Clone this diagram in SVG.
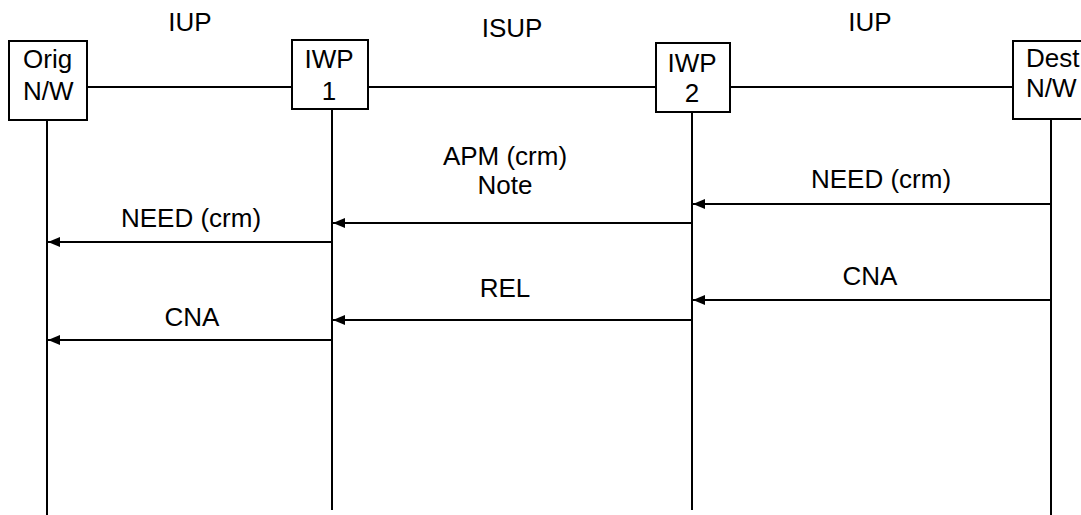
<svg xmlns="http://www.w3.org/2000/svg" width="1081" height="515" viewBox="0 0 1081 515">
<style>
.box{fill:#fff;stroke:#000;stroke-width:2}
.ln{stroke:#000;stroke-width:2;fill:none}
text{font-family:"Liberation Sans",Arial,sans-serif;font-size:26px;fill:#000}
.c{text-anchor:middle}
</style>
<defs>
<marker id="ah" viewBox="0 0 12 10" refX="12" refY="5" markerWidth="12" markerHeight="10" markerUnits="userSpaceOnUse" orient="auto">
<path d="M0,0 L12,5 L0,10 Z" fill="#000"/>
</marker>
</defs>
<text class="c" x="190" y="31">IUP</text>
<text class="c" x="512" y="37">ISUP</text>
<text class="c" x="870" y="31">IUP</text>
<g id="connectors">
<line class="ln" x1="87" y1="87" x2="292" y2="87"/>
<line class="ln" x1="368" y1="87" x2="656" y2="87"/>
<line class="ln" x1="730" y1="87" x2="1013" y2="87"/>
<line class="ln" x1="47" y1="120" x2="47" y2="515"/>
<line class="ln" x1="332" y1="109" x2="332" y2="510"/>
<line class="ln" x1="692" y1="112" x2="692" y2="510"/>
<line class="ln" x1="1051" y1="119" x2="1051" y2="515"/>
<line class="ln" x1="1051" y1="204" x2="693" y2="204" marker-end="url(#ah)"/>
<line class="ln" x1="692" y1="223" x2="333" y2="223" marker-end="url(#ah)"/>
<line class="ln" x1="332" y1="242" x2="48" y2="242" marker-end="url(#ah)"/>
<line class="ln" x1="1051" y1="300" x2="693" y2="300" marker-end="url(#ah)"/>
<line class="ln" x1="692" y1="320" x2="333" y2="320" marker-end="url(#ah)"/>
<line class="ln" x1="332" y1="340" x2="48" y2="340" marker-end="url(#ah)"/>
<text class="c" x="505" y="165">APM (crm)</text>
<text class="c" x="505" y="194">Note</text>
<text class="c" x="881" y="188">NEED (crm)</text>
<text class="c" x="191" y="227">NEED (crm)</text>
<text class="c" x="870" y="285">CNA</text>
<text class="c" x="505" y="297">REL</text>
<text class="c" x="192" y="326">CNA</text>
</g>
<g id="orig">
<rect class="box" x="9" y="41" width="78" height="79"/>
<text x="23" y="68">Orig</text>
<text x="23" y="100">N/W</text>
</g>
<g id="iwp1">
<rect class="box" x="292" y="40" width="76" height="69"/>
<text class="c" x="329" y="68">IWP</text>
<text class="c" x="329" y="100">1</text>
</g>
<g id="iwp2">
<rect class="box" x="656" y="43" width="74" height="69"/>
<text class="c" x="692" y="72">IWP</text>
<text class="c" x="692" y="102">2</text>
</g>
<g id="dest">
<rect class="box" x="1013" y="41" width="80" height="78"/>
<text x="1026" y="67">Dest</text>
<text x="1026" y="97">N/W</text>
</g>
</svg>
